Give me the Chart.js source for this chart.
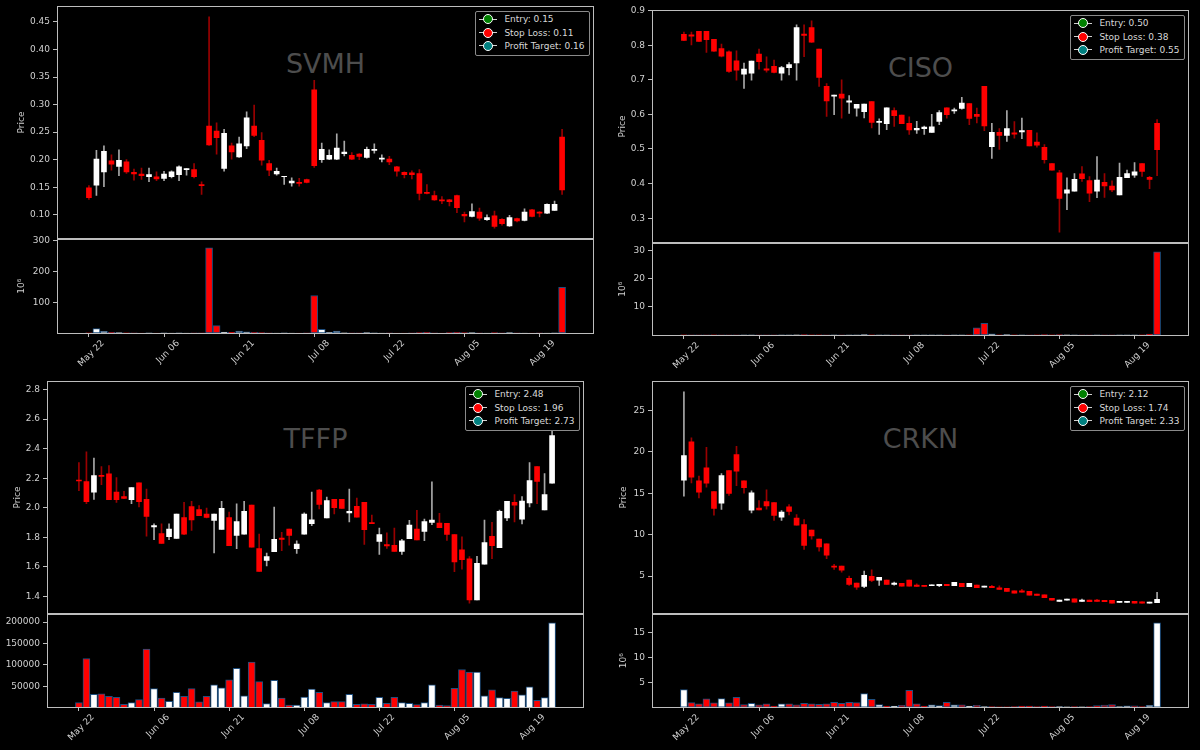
<!DOCTYPE html>
<html><head><meta charset="utf-8">
<script src="https://cdn.jsdelivr.net/npm/chart.js@4.4.1/dist/chart.umd.min.js"></script>
<style>
html,body{margin:0;padding:0;background:#000;width:1200px;height:750px;overflow:hidden;}
canvas{position:absolute;}
.wm{position:absolute;font-family:'DejaVu Sans';font-size:27px;color:#4d4d4d;transform:translate(-50%,-50%);white-space:nowrap;}
.lg{position:absolute;border:1px solid #8a8a8a;border-radius:2px;background:#000;font-family:'DejaVu Sans';font-size:9px;color:#d8d8d8;padding:1px 4px 2px 3px;z-index:5;}
.row{display:flex;align-items:center;height:13.4px;white-space:nowrap;}
.h{position:relative;width:18px;height:10px;margin-right:7px;flex:none;}
.h .ln{position:absolute;left:0;right:0;top:4.5px;height:1px;background:#d0d0d0;}
.h .dot{position:absolute;left:4px;top:0;width:8px;height:8px;border-radius:50%;border:1px solid #fff;}
</style></head><body>
<script>
// ---------------- data ----------------
const dateTicks = ['May 22','Jun 06','Jun 21','Jul 08','Jul 22','Aug 05','Aug 19'];
const dateTickIdx = [0,10,20,30,40,50,60];
const legendNames = ['Entry','Stop Loss','Profit Target'];
const legendColors = ['#008000','#ff0000','#008080'];

const svmhLevels = [0.15, 0.11, 0.16];
const svmhOpen = [0.149,0.154,0.178,0.198,0.188,0.196,0.177,0.174,0.169,0.169,
 0.166,0.169,0.173,0.182,0.182,0.155,0.261,0.252,0.184,0.225,
 0.205,0.225,0.261,0.235,0.193,0.174,0.169,0.158,0.159,0.164,
 0.327,0.200,0.201,0.201,0.211,0.208,0.210,0.204,0.217,0.201,
 0.201,0.187,0.177,0.176,0.175,0.141,0.135,0.127,0.127,0.135,
 0.101,0.097,0.105,0.091,0.098,0.092,0.080,0.093,0.090,0.109,
 0.105,0.103,0.108,0.241];
const svmhClose = [0.131,0.201,0.215,0.192,0.199,0.178,0.174,0.171,0.173,0.165,
 0.174,0.178,0.187,0.184,0.169,0.153,0.227,0.240,0.248,0.214,
 0.229,0.276,0.244,0.199,0.181,0.179,0.170,0.161,0.157,0.159,
 0.189,0.219,0.208,0.221,0.214,0.201,0.206,0.219,0.219,0.203,
 0.196,0.179,0.173,0.173,0.139,0.139,0.127,0.125,0.124,0.113,
 0.098,0.106,0.094,0.095,0.079,0.084,0.095,0.089,0.105,0.097,
 0.103,0.119,0.119,0.145];
const svmhHigh = [0.153,0.217,0.225,0.209,0.218,0.200,0.183,0.185,0.185,0.178,
 0.179,0.180,0.189,0.184,0.193,0.160,0.459,0.267,0.255,0.230,
 0.241,0.287,0.299,0.249,0.199,0.185,0.170,0.167,0.166,0.165,
 0.344,0.230,0.218,0.247,0.234,0.213,0.211,0.223,0.229,0.209,
 0.206,0.188,0.178,0.180,0.182,0.155,0.143,0.133,0.128,0.136,
 0.105,0.120,0.112,0.100,0.107,0.093,0.099,0.094,0.111,0.110,
 0.106,0.120,0.125,0.255];
const svmhLow = [0.128,0.135,0.151,0.181,0.171,0.175,0.163,0.164,0.160,0.162,
 0.162,0.167,0.162,0.172,0.167,0.137,0.226,0.210,0.179,0.201,
 0.204,0.220,0.242,0.190,0.171,0.172,0.155,0.152,0.152,0.158,
 0.186,0.195,0.200,0.200,0.207,0.200,0.200,0.203,0.212,0.196,
 0.191,0.170,0.167,0.165,0.127,0.138,0.126,0.120,0.116,0.104,
 0.087,0.096,0.090,0.090,0.076,0.081,0.079,0.087,0.089,0.096,
 0.096,0.102,0.108,0.137];
const svmhVolM = [0.8,14.3,5.5,2.0,1.8,0.5,0.3,0.2,0.3,0.2,
 0.3,0.2,0.3,0.2,0.3,0.4,277,24,3.0,2.5,
 6.5,3.5,2.0,1.5,0.3,0.2,0.3,0.2,0.2,0.4,
 122,12,2.0,6.5,0.5,0.4,0.3,1.5,0.3,0.2,
 0.3,0.2,0.2,0.3,1.5,2.0,0.3,0.2,1.5,2.0,
 1.5,1.5,0.3,0.2,1.5,0.3,1.5,0.3,0.2,0.2,
 0.3,0.2,0.3,149];

const cisoLevels = [0.50, 0.38, 0.55];
const cisoOpen = [0.831,0.830,0.840,0.840,0.817,0.790,0.781,0.755,0.716,0.719,
 0.774,0.732,0.739,0.719,0.735,0.749,0.832,0.851,0.789,0.681,
 0.653,0.659,0.635,0.618,0.608,0.637,0.577,0.573,0.611,0.598,
 0.574,0.555,0.559,0.548,0.580,0.619,0.610,0.617,0.631,0.600,
 0.681,0.507,0.548,0.539,0.547,0.549,0.554,0.520,0.505,0.458,
 0.431,0.372,0.378,0.428,0.409,0.378,0.404,0.393,0.367,0.417,
 0.424,0.458,0.418,0.574];
const cisoClose = [0.814,0.826,0.811,0.816,0.783,0.768,0.724,0.728,0.731,0.754,
 0.752,0.728,0.721,0.735,0.744,0.851,0.828,0.809,0.707,0.639,
 0.656,0.647,0.639,0.629,0.630,0.577,0.580,0.619,0.596,0.573,
 0.555,0.560,0.563,0.564,0.605,0.599,0.613,0.633,0.588,0.594,
 0.567,0.548,0.539,0.559,0.543,0.553,0.509,0.511,0.469,0.439,
 0.357,0.382,0.412,0.414,0.372,0.410,0.393,0.382,0.418,0.429,
 0.434,0.435,0.412,0.498];
const cisoHigh = [0.838,0.838,0.840,0.840,0.817,0.803,0.784,0.784,0.748,0.754,
 0.789,0.766,0.757,0.739,0.750,0.859,0.859,0.870,0.789,0.689,
 0.656,0.700,0.654,0.629,0.630,0.637,0.587,0.619,0.619,0.598,
 0.593,0.580,0.566,0.600,0.611,0.619,0.618,0.649,0.631,0.618,
 0.681,0.574,0.559,0.611,0.579,0.589,0.554,0.547,0.513,0.458,
 0.438,0.417,0.429,0.449,0.420,0.478,0.429,0.408,0.459,0.439,
 0.461,0.458,0.421,0.585];
const cisoLow = [0.813,0.801,0.811,0.779,0.782,0.766,0.721,0.699,0.675,0.699,
 0.731,0.722,0.720,0.699,0.714,0.699,0.767,0.808,0.681,0.594,
 0.599,0.589,0.603,0.595,0.590,0.561,0.542,0.556,0.565,0.573,
 0.542,0.545,0.542,0.548,0.570,0.589,0.603,0.615,0.570,0.575,
 0.553,0.473,0.499,0.522,0.531,0.530,0.509,0.505,0.459,0.439,
 0.260,0.325,0.378,0.406,0.348,0.359,0.360,0.377,0.367,0.417,
 0.418,0.421,0.385,0.423];
const cisoVolM = [0.08,0.05,0.06,0.05,0.07,0.05,0.06,0.05,0.06,0.05,
 0.06,0.05,0.05,0.06,0.05,0.08,0.2,0.1,0.08,0.06,
 0.05,0.06,0.05,0.06,0.2,0.08,0.06,0.05,0.06,0.05,
 0.06,0.05,0.06,0.05,0.06,0.05,0.06,0.05,0.1,2.6,
 4.2,0.4,0.1,0.15,0.08,0.06,0.05,0.1,0.15,0.08,
 0.2,0.1,0.06,0.05,0.06,0.05,0.06,0.05,0.06,0.05,
 0.06,0.08,0.3,29.7];

const tffpLevels = [2.48, 1.96, 2.73];
const tffpOpen = [2.188,2.177,2.105,2.220,2.229,2.107,2.075,2.055,2.168,2.057,
 1.870,1.825,1.804,1.793,1.933,2.008,1.987,1.958,1.915,1.854,
 1.933,1.813,1.822,2.019,1.723,1.644,1.703,1.795,1.856,1.723,
 1.822,1.892,2.120,1.931,2.057,2.057,1.965,2.010,2.037,1.899,
 1.773,1.750,1.746,1.705,1.791,1.856,1.840,1.901,1.897,1.895,
 1.818,1.716,1.655,1.377,1.619,1.807,1.730,1.931,2.037,1.922,
 2.032,2.279,1.985,2.166];
const tffpClose = [2.181,2.041,2.218,2.213,2.055,2.055,2.064,2.136,2.041,1.942,
 1.879,1.759,1.856,1.958,1.822,1.917,1.947,1.935,1.958,1.996,
 1.743,1.906,1.976,1.734,1.569,1.669,1.786,1.786,1.813,1.755,
 1.958,1.919,2.023,2.048,2.001,1.996,1.976,1.937,1.852,1.892,
 1.818,1.741,1.705,1.777,1.883,1.782,1.906,1.917,1.865,1.820,
 1.633,1.648,1.377,1.624,1.764,1.743,1.976,2.044,2.017,2.046,
 2.184,2.179,2.089,2.489];
const tffpHigh = [2.306,2.378,2.337,2.279,2.285,2.204,2.111,2.136,2.168,2.127,
 1.892,1.892,1.892,1.958,2.037,2.044,2.014,1.998,1.958,2.044,
 1.971,2.026,2.044,2.019,1.822,1.694,2.005,1.834,1.856,1.777,
 1.965,2.107,2.125,2.073,2.057,2.057,2.127,2.066,2.037,1.951,
 1.863,1.831,1.863,1.786,1.915,1.983,1.924,2.175,1.962,1.895,
 1.818,1.804,1.669,1.671,1.917,1.901,1.985,2.044,2.089,2.075,
 2.306,2.279,2.231,2.784];
const tffpLow = [2.116,2.028,2.057,2.157,2.055,2.037,2.062,2.028,2.005,1.807,
 1.784,1.759,1.784,1.793,1.818,1.847,1.947,1.931,1.694,1.854,
 1.743,1.723,1.822,1.734,1.569,1.606,1.703,1.709,1.746,1.691,
 1.822,1.879,1.992,1.931,1.958,1.996,1.904,1.937,1.752,1.892,
 1.685,1.725,1.705,1.685,1.791,1.782,1.777,1.886,1.865,1.779,
 1.567,1.585,1.355,1.377,1.619,1.655,1.730,1.913,1.904,1.890,
 2.005,2.028,1.985,2.166];
const tffpVol = [11800,114800,30900,32400,26300,24000,8000,11800,18700,137000,
 44600,22500,14900,35500,26300,44600,13400,26300,53000,46200,
 65200,92000,27800,106400,60700,9500,63700,22500,5700,5700,
 24800,43100,35500,11800,14100,14100,30900,8000,8800,8000,
 24000,10300,24000,11800,10300,7200,11800,53000,5700,5000,
 45400,89000,82800,82800,27800,41600,23300,21700,38500,30100,
 48400,17200,23300,198000];

const crknLevels = [2.12, 1.74, 2.33];
const crknOpen = [16.57,21.18,16.49,18.05,15.20,13.80,17.73,19.66,16.49,12.95,
 13.19,14.00,13.88,12.11,13.35,11.99,11.22,10.54,9.46,8.90,
 6.20,6.20,4.72,4.16,3.76,4.96,4.52,4.52,4.00,4.12,
 4.52,3.92,3.88,3.84,3.84,4.00,3.84,4.12,3.71,3.92,
 3.67,3.76,3.59,3.51,3.23,3.23,3.15,2.83,2.75,2.31,
 1.95,2.11,2.27,1.95,2.11,2.11,2.07,2.07,1.83,1.83,
 1.95,1.91,1.75,1.79];
const crknClose = [19.54,16.93,15.12,16.20,13.15,17.13,14.96,17.65,15.68,15.04,
 12.99,13.47,12.31,12.71,12.79,11.14,8.69,9.86,8.53,7.53,
 6.08,5.72,4.00,3.67,5.08,4.48,4.84,4.00,4.16,3.80,
 3.80,3.76,3.76,3.96,4.00,3.84,4.24,3.71,4.12,3.59,
 3.80,3.59,3.39,3.15,2.95,3.07,2.71,2.67,2.39,2.11,
 2.11,2.23,1.87,2.11,1.91,1.95,1.91,1.75,1.95,1.95,
 1.75,1.75,1.87,2.19];
const crknHigh = [27.21,21.67,17.05,20.54,15.20,17.37,17.73,20.66,16.49,15.28,
 14.12,15.40,13.88,12.91,13.63,12.43,11.83,10.54,9.46,8.90,
 6.41,6.20,5.00,4.16,5.60,5.76,4.84,4.52,4.28,4.12,
 4.52,4.08,3.88,3.96,4.00,4.00,4.24,4.12,4.12,3.92,
 3.80,3.88,3.84,3.51,3.23,3.39,3.15,2.83,2.75,2.31,
 2.11,2.23,2.27,2.23,2.11,2.19,2.07,2.07,1.95,1.95,
 1.95,1.91,1.87,3.03];
const crknLow = [14.64,16.24,14.44,15.72,12.35,13.03,14.72,15.92,15.00,12.63,
 12.99,13.07,11.71,11.71,12.39,11.14,8.21,9.46,8.01,7.09,
 5.80,5.48,3.88,3.39,3.59,4.32,3.88,4.00,3.92,3.80,
 3.80,3.76,3.76,3.84,3.71,3.84,3.84,3.71,3.71,3.59,
 3.67,3.59,3.39,3.15,2.95,3.07,2.71,2.67,2.39,2.11,
 1.95,2.11,1.87,1.95,1.91,1.95,1.91,1.75,1.83,1.83,
 1.75,1.75,1.75,1.79];
const crknVolM = [3.52,0.90,0.64,1.64,0.84,1.71,0.84,1.98,0.50,0.77,
 0.44,0.64,0.23,0.64,0.64,0.44,0.77,0.64,0.57,0.64,
 0.97,0.77,0.97,0.90,2.72,1.58,0.50,0.23,0.23,0.37,
 3.39,0.64,0.23,0.44,0.30,0.97,0.44,0.44,0.23,0.37,
 0.10,0.10,0.08,0.08,0.10,0.20,0.20,0.10,0.20,0.10,
 0.10,0.08,0.10,0.08,0.10,0.30,0.40,0.50,0.10,0.25,
 0.25,0.10,0.37,16.90];

// ---------------- layout / style ----------------
const UP = '#ffffff', DOWN = '#ff0000', UP_WICK = '#a8a8a8', DOWN_WICK = '#9a0000';
const FRAME = '#bdbdbd', TXT = '#d0d0d0', VOL_EDGE = '#1f4f7f';
const X_MIN = -4.25, X_MAX = 67.25;
const Y_W = 46, PAD_R = 8, PAD_T = 8, PAD_B = 8, X_H = 50;

const panels = [
  {name:'SVMH', o:svmhOpen, h:svmhHigh, l:svmhLow, c:svmhClose, v:svmhVolM, lv:svmhLevels,
   box:{left:57, right:594, top:6, mid:239, bottom:333}, titleDist:35, pStep:0.05, pDec:2, vStep:100, vTitle:'10⁶'},
  {name:'CISO', o:cisoOpen, h:cisoHigh, l:cisoLow, c:cisoClose, v:cisoVolM, lv:cisoLevels,
   box:{left:652, right:1189, top:10, mid:243, bottom:335}, titleDist:29.5, pStep:0.1, pDec:1, vStep:10, vTitle:'10⁶'},
  {name:'TFFP', o:tffpOpen, h:tffpHigh, l:tffpLow, c:tffpClose, v:tffpVol, lv:tffpLevels,
   box:{left:47, right:584, top:381, mid:614, bottom:707}, titleDist:29.7, pStep:0.2, pDec:1, vStep:50000, vTitle:''},
  {name:'CRKN', o:crknOpen, h:crknHigh, l:crknLow, c:crknClose, v:crknVolM, lv:crknLevels,
   box:{left:652, right:1189, top:381, mid:614, bottom:707}, titleDist:28, pStep:5, pDec:0, vStep:5, vTitle:'10⁶'}
];

Chart.defaults.font.family = "'DejaVu Sans'";
Chart.defaults.font.size = 9;
Chart.defaults.color = TXT;

const framePlugin = {
  id: 'frame',
  afterDraw(chart) {
    const a = chart.chartArea, ctx = chart.ctx;
    ctx.save();
    ctx.strokeStyle = FRAME; ctx.lineWidth = 1;
    ctx.strokeRect(Math.round(a.left) + 0.5, Math.round(a.top) + 0.5,
                   Math.round(a.right - a.left) - 1, Math.round(a.bottom - a.top));
    ctx.restore();
  }
};

function stepTicks(step) {
  return s => {
    const out = [];
    const k0 = Math.ceil(s.min / step - 1e-9), k1 = Math.floor(s.max / step + 1e-9);
    for (let k = k0; k <= k1; k++) out.push({value: +(k * step).toFixed(6)});
    s.ticks = out;
  };
}

function mkCanvas(left, top, w, h, z) {
  const c = document.createElement('canvas');
  c.width = Math.round(w); c.height = Math.round(h);
  c.style.left = left + 'px'; c.style.top = top + 'px';
  c.style.zIndex = z;
  document.body.appendChild(c);
  return c;
}

function yScale(p, min, max, step, fmt, title) {
  return {
    type: 'linear', min, max,
    afterBuildTicks: stepTicks(step),
    afterFit: s => { s.width = Y_W; },
    ticks: {color: TXT, padding: 3, callback: fmt},
    grid: {display: true, drawOnChartArea: false, drawTicks: true, tickLength: 4, color: FRAME},
    border: {display: false},
    title: {display: !!title, text: title, color: TXT,
            padding: {top: Math.max(0, Y_W - p.titleDist - 5.4), bottom: 0}}
  };
}

const baseOpts = {
  responsive: false, animation: false, devicePixelRatio: 1, events: [],
  plugins: {legend: {display: false}, tooltip: {enabled: false}}
};

panels.forEach(p => {
  const b = p.box, W = b.right - b.left;
  const idx = p.o.map((_, i) => i);
  const isUp = idx.map(i => p.c[i] >= p.o[i]);

  // watermark (behind the candles)
  const wm = document.createElement('div');
  wm.className = 'wm'; wm.textContent = p.name;
  wm.style.left = ((b.left + b.right) / 2) + 'px';
  wm.style.top = (b.top + 56.5) + 'px';
  wm.style.zIndex = 0;
  document.body.appendChild(wm);

  // price panel
  const lo = Math.min(...p.l), hi = Math.max(...p.h), m = 0.05 * (hi - lo);
  const c1 = mkCanvas(b.left - Y_W, b.top - PAD_T, Y_W + W + PAD_R, PAD_T + (b.mid - b.top) + PAD_B, 1);
  new Chart(c1, {
    type: 'bar',
    data: {datasets: [
      {data: idx.map(i => ({x: i, y: [p.o[i], p.c[i]]})), backgroundColor: idx.map(i => isUp[i] ? UP : DOWN),
       barThickness: 5, grouped: false, borderWidth: 0},
      {data: idx.map(i => ({x: i, y: [p.l[i], p.h[i]]})), backgroundColor: idx.map(i => isUp[i] ? UP_WICK : DOWN_WICK),
       barThickness: 1, grouped: false, borderWidth: 0}
    ]},
    options: Object.assign({}, baseOpts, {
      layout: {padding: {left: 0, right: PAD_R, top: PAD_T, bottom: PAD_B}},
      scales: {
        x: {type: 'linear', min: X_MIN, max: X_MAX, offset: false, grid: {offset: false}, display: false},
        y: yScale(p, lo - m, hi + m, p.pStep, v => v.toFixed(p.pDec), 'Price')
      }
    }),
    plugins: [framePlugin]
  });

  // volume panel
  const vmin = 0.3 * Math.min(...p.v), vmax = 1.1 * Math.max(...p.v);
  const c2 = mkCanvas(b.left - Y_W, b.mid - PAD_T, Y_W + W + PAD_R, PAD_T + (b.bottom - b.mid) + X_H, 2);
  new Chart(c2, {
    type: 'bar',
    data: {datasets: [
      {data: idx.map(i => ({x: i, y: p.v[i]})), backgroundColor: idx.map(i => isUp[i] ? UP : DOWN),
       borderColor: VOL_EDGE, borderWidth: 1, borderSkipped: false, barThickness: 7, grouped: false}
    ]},
    options: Object.assign({}, baseOpts, {
      layout: {padding: {left: 0, right: PAD_R, top: PAD_T, bottom: 0}},
      scales: {
        x: {type: 'linear', min: X_MIN, max: X_MAX, offset: false,
            afterBuildTicks: s => { s.ticks = dateTickIdx.map(v => ({value: v})); },
            afterFit: s => { s.height = X_H; },
            ticks: {color: TXT, minRotation: 45, maxRotation: 45, autoSkip: false, padding: 1, labelOffset: 14,
                    callback: v => dateTicks[dateTickIdx.indexOf(v)]},
            grid: {display: true, offset: false, drawOnChartArea: false, drawTicks: true, tickLength: 4, color: FRAME},
            border: {display: false}},
        y: yScale(p, vmin, vmax, p.vStep, v => String(v), p.vTitle)
      }
    }),
    plugins: [framePlugin]
  });

  // legend (top-right inside the price panel)
  const lg = document.createElement('div');
  lg.className = 'lg';
  lg.style.right = (1200 - b.right + 4.5) + 'px';
  lg.style.top = (b.top + 4.5) + 'px';
  legendNames.forEach((n, k) => {
    const row = document.createElement('div'); row.className = 'row';
    const h = document.createElement('span'); h.className = 'h';
    const ln = document.createElement('span'); ln.className = 'ln';
    const dot = document.createElement('span'); dot.className = 'dot'; dot.style.background = legendColors[k];
    h.appendChild(ln); h.appendChild(dot);
    const t = document.createElement('span'); t.textContent = n + ': ' + p.lv[k].toFixed(2);
    row.appendChild(h); row.appendChild(t);
    lg.appendChild(row);
  });
  document.body.appendChild(lg);
});
</script>
</body></html>
